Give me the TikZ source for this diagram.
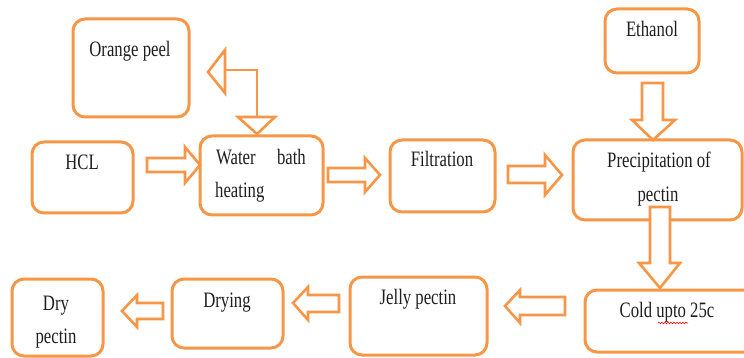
\documentclass[tikz,border=0pt]{standalone}
\usepackage{fontspec}
\setmainfont{Liberation Serif}[FakeStretch=0.76]
\usetikzlibrary{decorations.pathmorphing}
\definecolor{org}{RGB}{247,150,70}
\definecolor{ink}{RGB}{30,30,30}
\tikzset{
  box/.style={draw=org, line width=3pt, rounded corners=12pt},
  blk/.style={draw=org, line width=2.6pt, fill=white, line join=miter},
  txt/.style={anchor=base, inner sep=0pt, text=ink, font=\fontsize{22}{26}\selectfont},
}
\begin{document}
\begin{tikzpicture}[x=1pt,y=-1pt]
\useasboundingbox (0,0) rectangle (744,358);
\begin{scope}
\clip (0,0) rectangle (744,358);
% boxes
\draw[box] (73,19) rectangle (189,117);
\node[inner sep=0pt] (orange) at (131,68) {};
\draw[box] (32,142) rectangle (133,213);
\node[inner sep=0pt] (hcl) at (82,177) {};
\draw[box] (200,136) rectangle (323,215);
\node[inner sep=0pt] (water) at (261,175) {};
\draw[box] (390,140) rectangle (495,212);
\node[inner sep=0pt] (filt) at (442,176) {};
\draw[box] (573,140) rectangle (742,220);
\node[inner sep=0pt] (precip) at (657,180) {};
\draw[box] (605,9) rectangle (699,73);
\node[inner sep=0pt] (eth) at (652,41) {};
\draw[box] (585,290) rectangle (765,352);
\node[inner sep=0pt] (cold) at (667,321) {};
\draw[box] (350,277) rectangle (487,355);
\node[inner sep=0pt] (jelly) at (418,316) {};
\draw[box] (172,279) rectangle (283,348);
\node[inner sep=0pt] (drying) at (227,313) {};
\draw[box] (12,279) rectangle (103,356);
\node[inner sep=0pt] (dry) at (57,317) {};
\end{scope}
% texts
\node[txt] (t1) at (130,57) {Orange peel};
\node[txt] (t2) at (82,170) {HCL};
\node[txt, anchor=base west] (t3a) at (216,165) {Water};
\node[txt, anchor=base east] (t3b) at (306,165) {bath};
\node[txt, anchor=base west] (t3c) at (215,198) {heating};
\node[txt] (t4) at (442,167) {Filtration};
\node[txt] (t5a) at (659,168) {Precipitation of};
\node[txt] (t5b) at (658,201) {pectin};
\node[txt] (t6) at (652,37) {Ethanol};
\node[txt] (t7) at (667,317) {Cold upto 25c};
\node[txt] (t8) at (418,304) {Jelly pectin};
\node[txt] (t9) at (227,307) {Drying};
\node[txt] (t10a) at (56,310) {Dry};
\node[txt] (t10b) at (56,343) {pectin};
\draw[red, line width=0.6pt, decorate, decoration={snake, amplitude=0.8pt, segment length=3pt}] (658,323) -- (688,323);
% block arrows
\draw[blk] (200,165) -- (185,147) -- (185,158) -- (147,158) -- (147,172) -- (185,172) -- (185,183) -- cycle;
\draw[blk] (380,175) -- (365,158) -- (365,168) -- (328,168) -- (328,182) -- (365,182) -- (365,192) -- cycle;
\draw[blk] (562,175) -- (545,155) -- (545,166) -- (508,166) -- (508,183) -- (545,183) -- (545,195) -- cycle;
\draw[blk] (505,306) -- (520,290) -- (520,297) -- (565,297) -- (565,315) -- (520,315) -- (520,323) -- cycle;
\draw[blk] (293,303) -- (308,287) -- (308,295) -- (339,295) -- (339,312) -- (308,312) -- (308,320) -- cycle;
\draw[blk] (122,311) -- (137,295) -- (137,303) -- (163,303) -- (163,319) -- (137,319) -- (137,327) -- cycle;
\draw[blk] (653,140) -- (632,120) -- (642,120) -- (642,83) -- (663,83) -- (663,120) -- (675,120) -- cycle;
\draw[blk] (660,288) -- (639,263) -- (650,263) -- (650,207) -- (670,207) -- (670,263) -- (680,263) -- cycle;
% bent arrow to orange peel
\draw[blk] (208,72) -- (225,50) -- (225,93) -- cycle;
\draw[blk, fill=none] (225,70) -- (257,70) -- (257,117);
\draw[blk] (257,134) -- (238,117) -- (275,117) -- cycle;
\end{tikzpicture}
\end{document}
